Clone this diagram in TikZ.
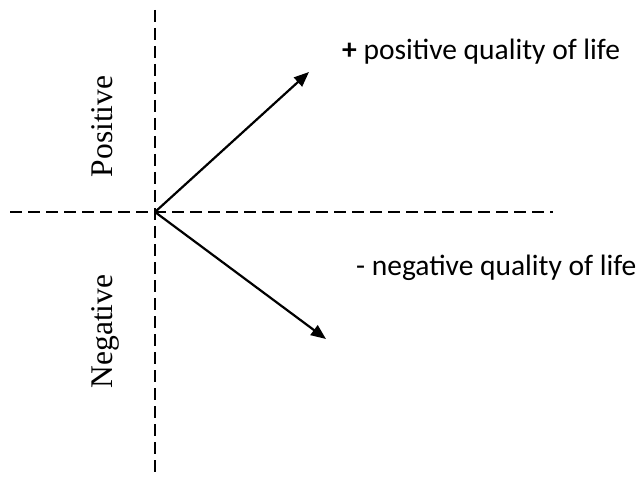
\documentclass[tikz,border=0pt]{standalone}
\usepackage{fontspec}
\setmainfont{Liberation Serif}
\newfontfamily\calib{Carlito}
\usetikzlibrary{arrows.meta}
\begin{document}
\begin{tikzpicture}[x=1pt,y=-1pt,
  axis/.style={line width=1.5pt,dash pattern=on 12pt off 6pt},
  vec/.style={line width=2.2pt,-{Triangle[length=15pt,width=12pt]}},
  side/.style={font=\fontsize{31.5}{31.5}\selectfont,rotate=90,inner sep=0pt,anchor=base},
  lab/.style={font=\calib\fontsize{29.5}{29.5}\selectfont,inner sep=0pt,anchor=base west}]
\useasboundingbox (0,0) rectangle (639,478);
\coordinate (o) at (155,212);
\coordinate (vt) at (155,10);
\coordinate (vb) at (155,478);
\coordinate (hl) at (10,212);
\coordinate (hr) at (553,212);
\coordinate (p) at (309,72);
\coordinate (n) at (326,339);
\draw[axis] (vt) -- (vb);
\draw[axis] (hl) -- (hr);
\draw[vec] (o) -- (p);
\draw[vec] (o) -- (n);
\node[side] (pos) at (112,126.5) {Positive};
\node[side] (neg) at (112,331.5) {Negative};
\node[lab] (pl) at (342,60) {\textbf{+} positive quality of life};
\node[lab] (nl) at (356,275) {- negative quality of life};
\end{tikzpicture}
\end{document}
